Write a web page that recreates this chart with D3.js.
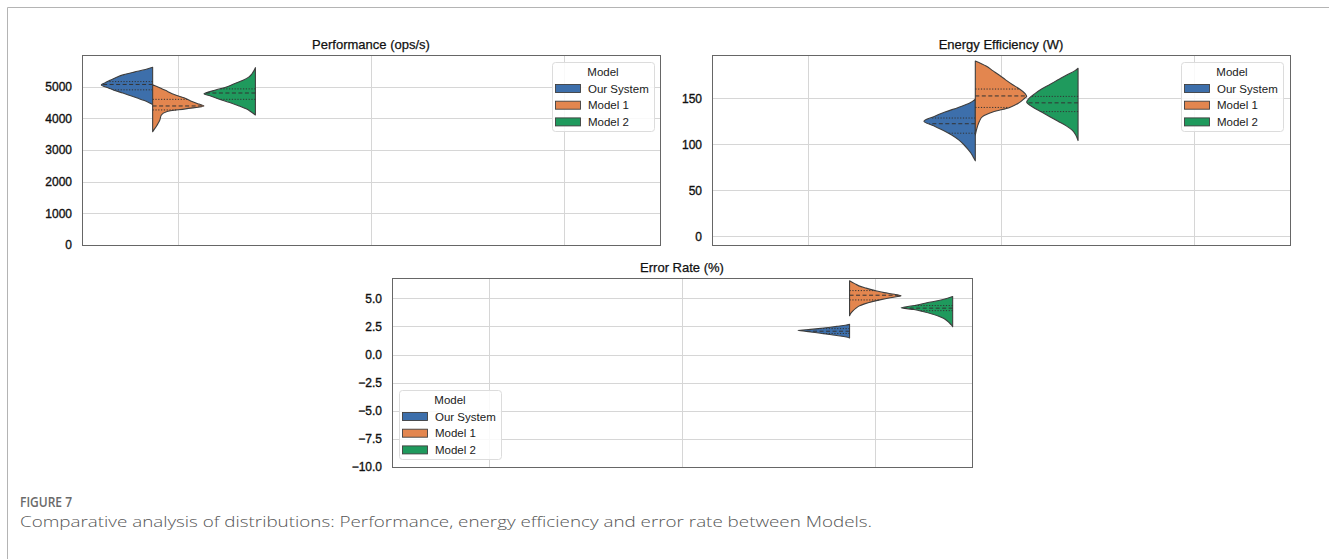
<!DOCTYPE html>
<html>
<head>
<meta charset="utf-8">
<script src="https://cdn.jsdelivr.net/npm/d3@7"></script>
<style>
  html, body { margin: 0; padding: 0; background: #fff; }
  svg { display: block; }
</style>
</head>
<body>
<svg id="fig" width="1329" height="559"></svg>
<script>
// ---- data -----------------------------------------------------------------
const models = ["Our System", "Model 1", "Model 2"];
const metrics = ["Performance (ops/s)", "Energy Efficiency (W)", "Error Rate (%)"];
const modelColors = ["#3d6fab", "#e3864f", "#1f9a5d"];

// y-axis tick labels
const perfTicks = [0, 1000, 2000, 3000, 4000, 5000];
const energyTicks = [0, 50, 100, 150];
const errorTicks = [-10, -7.5, -5, -2.5, 0, 2.5, 5];

// density profiles: [value, relative density]
const perfOurSystem = [[5610,0],[5540,0.14],[5460,0.36],[5380,0.56],[5300,0.70],[5200,0.83],[5120,0.93],[5050,1],[4960,0.86],[4880,0.74],[4800,0.58],[4720,0.44],[4640,0.30],[4560,0.16],[4480,0.05],[4440,0]];
const perfModel1 = [[5060,0],[4950,0.16],[4850,0.29],[4750,0.42],[4650,0.61],[4550,0.74],[4450,0.90],[4390,1],[4300,0.64],[4210,0.27],[4105,0.17],[3950,0.14],[3850,0.11],[3740,0.07],[3650,0.03],[3578,0]];
const perfModel2 = [[5600,0],[5500,0.03],[5400,0.07],[5300,0.13],[5200,0.24],[5100,0.40],[5000,0.55],[4900,0.76],[4800,0.97],[4780,1],[4700,0.86],[4600,0.70],[4500,0.50],[4400,0.33],[4300,0.18],[4200,0.08],[4105,0]];

const energyOurSystem = [[149,0],[145,0.10],[140,0.33],[135,0.59],[130,0.81],[125,1],[120,0.81],[115,0.62],[110,0.46],[105,0.33],[100,0.23],[95,0.15],[90,0.08],[85,0.03],[82,0]];
const energyModel1 = [[190.5,0],[185,0.21],[180,0.34],[175,0.47],[170,0.59],[165,0.72],[160,0.86],[155,0.97],[152,1],[150,0.96],[145,0.85],[140,0.67],[135,0.34],[130,0.14],[125,0.08],[120,0.045],[115,0.02],[110,0]];
const energyModel2 = [[182.6,0],[180,0.06],[175,0.23],[170,0.39],[165,0.55],[160,0.71],[155,0.84],[150,0.95],[146,1],[140,0.87],[135,0.71],[130,0.55],[125,0.39],[120,0.23],[115,0.11],[110,0.045],[104,0]];

const errorOurSystem = [[2.68,0],[2.6,0.08],[2.5,0.25],[2.4,0.41],[2.3,0.61],[2.2,0.84],[2.15,1],[2.05,0.84],[1.95,0.67],[1.85,0.51],[1.75,0.35],[1.65,0.18],[1.55,0.06],[1.47,0]];
const errorModel1 = [[6.56,0],[6.3,0.10],[6.1,0.18],[5.9,0.32],[5.7,0.48],[5.5,0.67],[5.35,0.87],[5.22,1],[5.05,0.79],[4.9,0.63],[4.7,0.44],[4.5,0.29],[4.3,0.18],[4.1,0.12],[3.9,0.07],[3.7,0.03],[3.45,0]];
const errorModel2 = [[5.15,0],[5.0,0.10],[4.8,0.27],[4.6,0.50],[4.4,0.69],[4.2,0.95],[4.15,1],[4.0,0.75],[3.8,0.56],[3.6,0.40],[3.4,0.27],[3.2,0.17],[3.0,0.11],[2.8,0.06],[2.6,0.02],[2.47,0]];

// quartiles per model: [Q1, median, Q3]
const perfQuartiles = [[4900, 5070, 5160], [4265, 4390, 4600], [4600, 4800, 4930]];
const energyQuartiles = [[112, 122.3, 128.5], [140, 152.5, 160], [135.5, 145, 152]];
const errorQuartiles = [[1.87, 2.07, 2.3], [4.85, 5.27, 5.68], [3.9, 4.12, 4.35]];

const captionLabel = "FIGURE 7";
const captionText = "Comparative analysis of distributions: Performance, energy efficiency and error rate between Models.";

// ---- layout ---------------------------------------------------------------
const panels = [
  { index: 0, box: { x0: 82, x1: 660, y0: 55, y1: 245 }, domain: [0, 6000], ticks: perfTicks, fmt: d3.format("d"),
    profiles: [perfOurSystem, perfModel1, perfModel2], quartiles: perfQuartiles, legend: { x: 552, y: 62 } },
  { index: 1, box: { x0: 712, x1: 1290, y0: 55, y1: 245 }, domain: [-9.5, 197], ticks: energyTicks, fmt: d3.format("d"),
    profiles: [energyOurSystem, energyModel1, energyModel2], quartiles: energyQuartiles, legend: { x: 1181, y: 62 } },
  { index: 2, box: { x0: 392, x1: 972, y0: 278, y1: 467 }, domain: [-10, 6.8], ticks: errorTicks, fmt: d3.format(".1f"),
    profiles: [errorOurSystem, errorModel1, errorModel2], quartiles: errorQuartiles, legend: { x: 399, y: 390 } }
];

const FONT = "'Liberation Sans', Arial, Helvetica, sans-serif";
const CAPTION_FONT = "'Open Sans', 'Noto Sans', sans-serif";
const svg = d3.select("#fig");

// outer frame of the figure
svg.append("path")
  .attr("d", "M7.5,559 V7.5 H1329")
  .attr("fill", "none")
  .attr("stroke", "#b4b4b4")
  .attr("stroke-width", 1);

// linear interpolation of a profile's density at a value
function densityAt(profile, v) {
  const pts = profile.slice().sort((a, b) => a[0] - b[0]);
  for (let i = 0; i < pts.length - 1; i++) {
    const [a, da] = pts[i], [b, db] = pts[i + 1];
    if (v >= a && v <= b) return da + (db - da) * (v - a) / (b - a);
  }
  return 0;
}

panels.forEach(p => {
  const { x0, x1, y0, y1 } = p.box;
  const x = d3.scaleLinear().domain([-0.5, 2.5]).range([x0, x1]);
  const y = d3.scaleLinear().domain(p.domain).range([y1, y0]);
  const g = svg.append("g");

  // grid
  g.append("g").selectAll("line").data(p.ticks).join("line")
    .attr("x1", x0).attr("x2", x1)
    .attr("y1", d => Math.round(y(d)) + 0.5).attr("y2", d => Math.round(y(d)) + 0.5)
    .attr("stroke", "#d6d6d6").attr("stroke-width", 1);
  g.append("g").selectAll("line").data([0, 1, 2]).join("line")
    .attr("x1", d => Math.round(x(d)) + 0.5).attr("x2", d => Math.round(x(d)) + 0.5)
    .attr("y1", y0).attr("y2", y1)
    .attr("stroke", "#d6d6d6").attr("stroke-width", 1);

  // y axis labels (no tick marks)
  const yAxis = d3.axisLeft(y).tickValues(p.ticks).tickFormat(p.fmt).tickSize(0).tickPadding(10);
  const ax = g.append("g").attr("transform", `translate(${x0},0)`).call(yAxis);
  ax.select(".domain").remove();
  ax.selectAll("text")
    .attr("font-family", FONT).attr("font-size", 12).attr("fill", "#111")
    .attr("stroke", "#111").attr("stroke-width", 0.35);

  // violins
  const unit = x(0.8 / 3) - x(0);
  const splitX = x(p.index - 0.4 / 3);
  const model2X = x(p.index + 0.4);
  const halves = [
    { cx: splitX, dir: -1 },   // Our System: left half
    { cx: splitX, dir: 1 },    // Model 1: right half
    { cx: model2X, dir: -1 }   // Model 2: left half
  ];

  p.profiles.forEach((prof, i) => {
    const h = halves[i];
    const area = d3.area()
      .y(d => y(d[0]))
      .x0(h.cx)
      .x1(d => h.cx + h.dir * unit * d[1])
      .curve(d3.curveMonotoneY);
    const sorted = prof.slice().sort((a, b) => b[0] - a[0]);
    g.append("path")
      .attr("d", area(sorted))
      .attr("fill", modelColors[i])
      .attr("stroke", "#3f3f3f")
      .attr("stroke-width", 1.1)
      .attr("stroke-linejoin", "round");

    const q = p.quartiles[i];
    q.forEach((v, k) => {
      const w = unit * densityAt(prof, v);
      g.append("line")
        .attr("x1", h.cx).attr("x2", h.cx + h.dir * w)
        .attr("y1", y(v)).attr("y2", y(v))
        .attr("stroke", "#333")
        .attr("stroke-width", 1)
        .attr("stroke-dasharray", k === 1 ? "4,2.5" : "1.2,1.6");
    });
  });

  // frame
  g.append("rect")
    .attr("x", x0 + 0.5).attr("y", y0 + 0.5)
    .attr("width", x1 - x0).attr("height", y1 - y0)
    .attr("fill", "none").attr("stroke", "#666").attr("stroke-width", 1);

  // title
  g.append("text")
    .attr("x", (x0 + x1) / 2).attr("y", y0 - 6)
    .attr("text-anchor", "middle")
    .attr("font-family", FONT).attr("font-size", 13).attr("fill", "#111")
    .attr("stroke", "#111").attr("stroke-width", 0.25)
    .text(metrics[p.index]);

  // legend
  const lg = g.append("g").attr("transform", `translate(${p.legend.x},${p.legend.y})`);
  lg.append("rect")
    .attr("x", 0.5).attr("y", 0.5).attr("width", 102).attr("height", 69).attr("rx", 3)
    .attr("fill", "#fff").attr("fill-opacity", 0.85)
    .attr("stroke", "#dcdcdc").attr("stroke-width", 1);
  lg.append("text")
    .attr("x", 51).attr("y", 14)
    .attr("text-anchor", "middle")
    .attr("font-family", FONT).attr("font-size", 11.5).attr("fill", "#1a1a1a")
    .text("Model");
  const rows = lg.selectAll("g.row").data(models).join("g")
    .attr("class", "row")
    .attr("transform", (d, i) => `translate(0,${26.5 + i * 16.7})`);
  rows.append("rect")
    .attr("x", 3.5).attr("y", -4).attr("width", 25).attr("height", 8)
    .attr("fill", (d, i) => modelColors[i])
    .attr("stroke", "#3f3f3f").attr("stroke-width", 0.9);
  rows.append("text")
    .attr("x", 36).attr("y", 4)
    .attr("font-family", FONT).attr("font-size", 11.5).attr("fill", "#1a1a1a")
    .text(d => d);
});

// caption
svg.append("text")
  .attr("x", 20).attr("y", 507)
  .attr("font-family", CAPTION_FONT)
  .attr("font-size", 13.5).attr("font-weight", 600).attr("fill", "#6a6a6a")
  .attr("textLength", 52).attr("lengthAdjust", "spacingAndGlyphs")
  .text(captionLabel);
svg.append("text")
  .attr("x", 20).attr("y", 527)
  .attr("font-family", CAPTION_FONT)
  .attr("font-size", 15).attr("font-weight", 300).attr("fill", "#555")
  .attr("textLength", 852).attr("lengthAdjust", "spacingAndGlyphs")
  .text(captionText);
</script>
</body>
</html>
